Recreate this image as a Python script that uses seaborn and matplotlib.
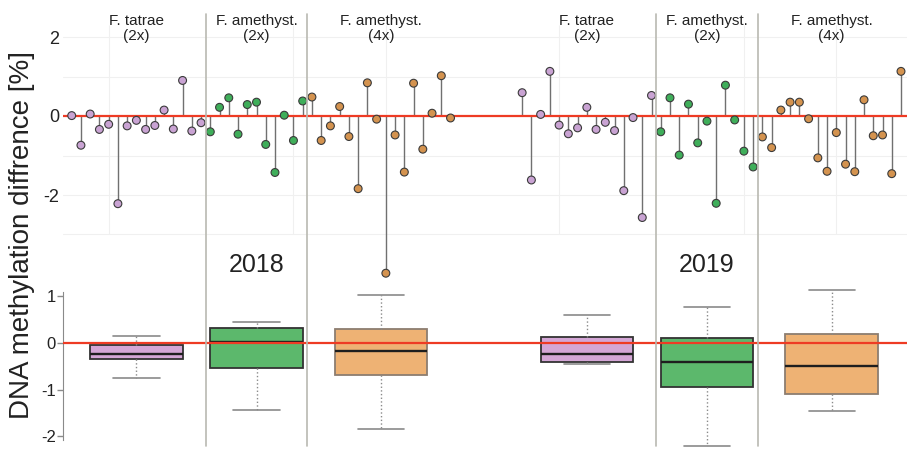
import numpy as np
import pandas as pd
import matplotlib
matplotlib.use("Agg")
import matplotlib.pyplot as plt
import matplotlib.transforms as mtransforms
from matplotlib.lines import Line2D
import seaborn as sns

# methylation difference per population
years = ["2018", "2019"]
groups = ["F. tatrae\n(2x)", "F. amethyst.\n(2x)", "F. amethyst.\n(4x)"]

tat_2018 = [0.01, -0.74, 0.05, -0.34, -0.21, -2.22, -0.25, -0.11, -0.34, -0.24, 0.15, -0.33, 0.90, -0.38, -0.17]
am2_2018 = [-0.40, 0.22, 0.46, -0.46, 0.29, 0.35, -0.72, -1.43, 0.02, -0.62, 0.38]
am4_2018 = [0.48, -0.62, -0.25, 0.24, -0.52, -1.84, 0.84, -0.08, -3.98, -0.48, -1.42, 0.83, -0.84, 0.07, 1.02, -0.05]
tat_2019 = [0.59, -1.62, 0.04, 1.13, -0.23, -0.45, -0.30, 0.22, -0.34, -0.16, -0.37, -1.89, -0.04, -2.57, 0.52]
am2_2019 = [-0.40, 0.46, -0.99, 0.30, -0.68, -0.13, -2.21, 0.78, -0.10, -0.89, -1.29]
am4_2019 = [-0.53, -0.80, 0.15, 0.35, 0.35, -0.07, -1.06, -1.40, -0.42, -1.22, -1.41, 0.41, -0.50, -0.48, -1.46, 1.13]

series = {
    "2018": [tat_2018, am2_2018, am4_2018],
    "2019": [tat_2019, am2_2019, am4_2019],
}

point_colors = ["#c9a3d3", "#3fae5a", "#d4934f"]
box_colors = ["#d4a6d6", "#5cb86c", "#eeb274"]

YEAR_OFFSET = 48.75  # gap between the two years, in point slots

rows = []
for y_i, yr in enumerate(years):
    start = y_i * YEAR_OFFSET
    for g, vals in zip(groups, series[yr]):
        pos = start + np.arange(len(vals))
        centre = pos.mean()
        for p, v in zip(pos, vals):
            rows.append({"year": yr, "group": g, "pos": p, "value": v, "centre": centre})
        start += len(vals)
df = pd.DataFrame(rows)

sns.set_style("white")
plt.rcParams["font.family"] = ["Liberation Sans", "DejaVu Sans"]

W, H = 907, 453
fig = plt.figure(figsize=(W / 100, H / 100), dpi=100)

# pixel layout helpers
def rect(x0, y0, x1, y1):
    return [x0 / W, 1 - y1 / H, (x1 - x0) / W, (y1 - y0) / H]

step = 9.24
x_left = -(71.7 - 63) / step
x_right = (907 - 71.7) / step

ax_top = fig.add_axes(rect(63, 14, 907, 282))
ax_box = fig.add_axes(rect(63, 283, 907, 447))

# ---- top: lollipops ----
ax_top.set_xlim(x_left, x_right)
ax_top.set_ylim(-(282 - 116) / 39.5, (116 - 14) / 39.5)

for yv in [2, 1, -1, -2, -3]:
    ax_top.axhline(yv, color="#f0f0f0", lw=0.8, zorder=0)
for y_i in range(2):
    for k in [4, 24, 34]:
        ax_top.vlines(y_i * YEAR_OFFSET + k, -3, 2.3, color="#f0f0f0", lw=0.8, zorder=0)

ax_top.vlines(df["pos"], 0, df["value"], color="#707070", lw=1.0, zorder=2)
ax_top.axhline(0, color="#ee3b24", lw=1.6, zorder=2.5)
sns.scatterplot(data=df, x="pos", y="value", hue="group", hue_order=groups,
                palette=point_colors, s=32, edgecolor="#3a3a3a", linewidth=0.8,
                legend=False, zorder=3, ax=ax_top)
ax_top.set_yticks([2, 0, -2])
ax_top.set_yticklabels(["2", "0", "-2"])
ax_top.tick_params(axis="y", length=0, pad=2.5, labelsize=13, labelcolor="#222222")
ax_top.set_xticks([])
ax_top.set_xlabel("")
ax_top.set_ylabel("")
for s in ax_top.spines.values():
    s.set_visible(False)
ax_top.patch.set_alpha(0)

# ---- bottom: boxplots ----
ax_box.set_xlim(x_left, x_right)
ax_box.axhline(0, color="#ee3b24", lw=1.6, zorder=5)
sns.boxplot(data=df, x="centre", y="value", hue="group", hue_order=groups,
            palette=box_colors, saturation=1, native_scale=True, dodge=False, width=0.77,
            showfliers=False, linecolor="#333333", linewidth=1.3, legend=False,
            whiskerprops=dict(color="#8a8a8a", linestyle=":", linewidth=1.0),
            capprops=dict(color="#8a8a8a", linewidth=1.2),
            medianprops=dict(color="#1e1e1e", linewidth=1.7),
            ax=ax_box)
orange = matplotlib.colors.to_rgb(box_colors[2])
for p in ax_box.patches:
    if np.allclose(p.get_facecolor()[:3], orange, atol=0.02):
        p.set_edgecolor("#8c7d70")
ax_box.set_xlim(x_left, x_right)
ax_box.set_ylim(-(447 - 343) / 46.7, (343 - 283) / 46.7)
ax_box.set_yticks([1, 0, -1, -2])
ax_box.set_yticklabels(["1", "0", "-1", "-2"])
ax_box.tick_params(axis="y", length=4, width=1, color="#8a8a8a", pad=1,
                   labelsize=12, labelcolor="#222222", left=True)
ax_box.set_xticks([])
ax_box.set_xlabel("")
ax_box.set_ylabel("")
for name, s in ax_box.spines.items():
    s.set_visible(name == "left")
ax_box.spines["left"].set_color("#8a8a8a")
ax_box.spines["left"].set_bounds(-2.08, 1.1)
ax_box.patch.set_alpha(0)

# ---- separators, group and year labels ----
blend = mtransforms.blended_transform_factory(ax_top.transData, fig.transFigure)
for y_i in range(2):
    start = y_i * YEAR_OFFSET
    n_t = len(series[years[y_i]][0])
    n_a = len(series[years[y_i]][1])
    for xs in [start + n_t - 0.5, start + n_t + n_a - 0.5]:
        fig.add_artist(Line2D([xs, xs], [1 - 14 / H, 1 - 446 / H], transform=blend,
                              color="#b9b9b1", lw=1.2, zorder=1))

centres = df.groupby(["year", "group"], sort=False)["centre"].first()
for (yr, g), c in centres.items():
    ax_top.text(c, 1 - 14 / H, g, transform=blend, ha="center", va="top",
                fontsize=11, linespacing=1.05, color="#222222")
for yr in years:
    c = centres[(yr, groups[1])]
    ax_top.text(c, 1 - 265 / H, yr, transform=blend, ha="center", va="center",
                fontsize=18, color="#222222")

fig.text(22 / W, 1 - 235 / H, "DNA methylation diffrence [%]", rotation=90,
         ha="center", va="center", fontsize=20, color="#222222")

fig.savefig("out.png", dpi=100, facecolor="white")
